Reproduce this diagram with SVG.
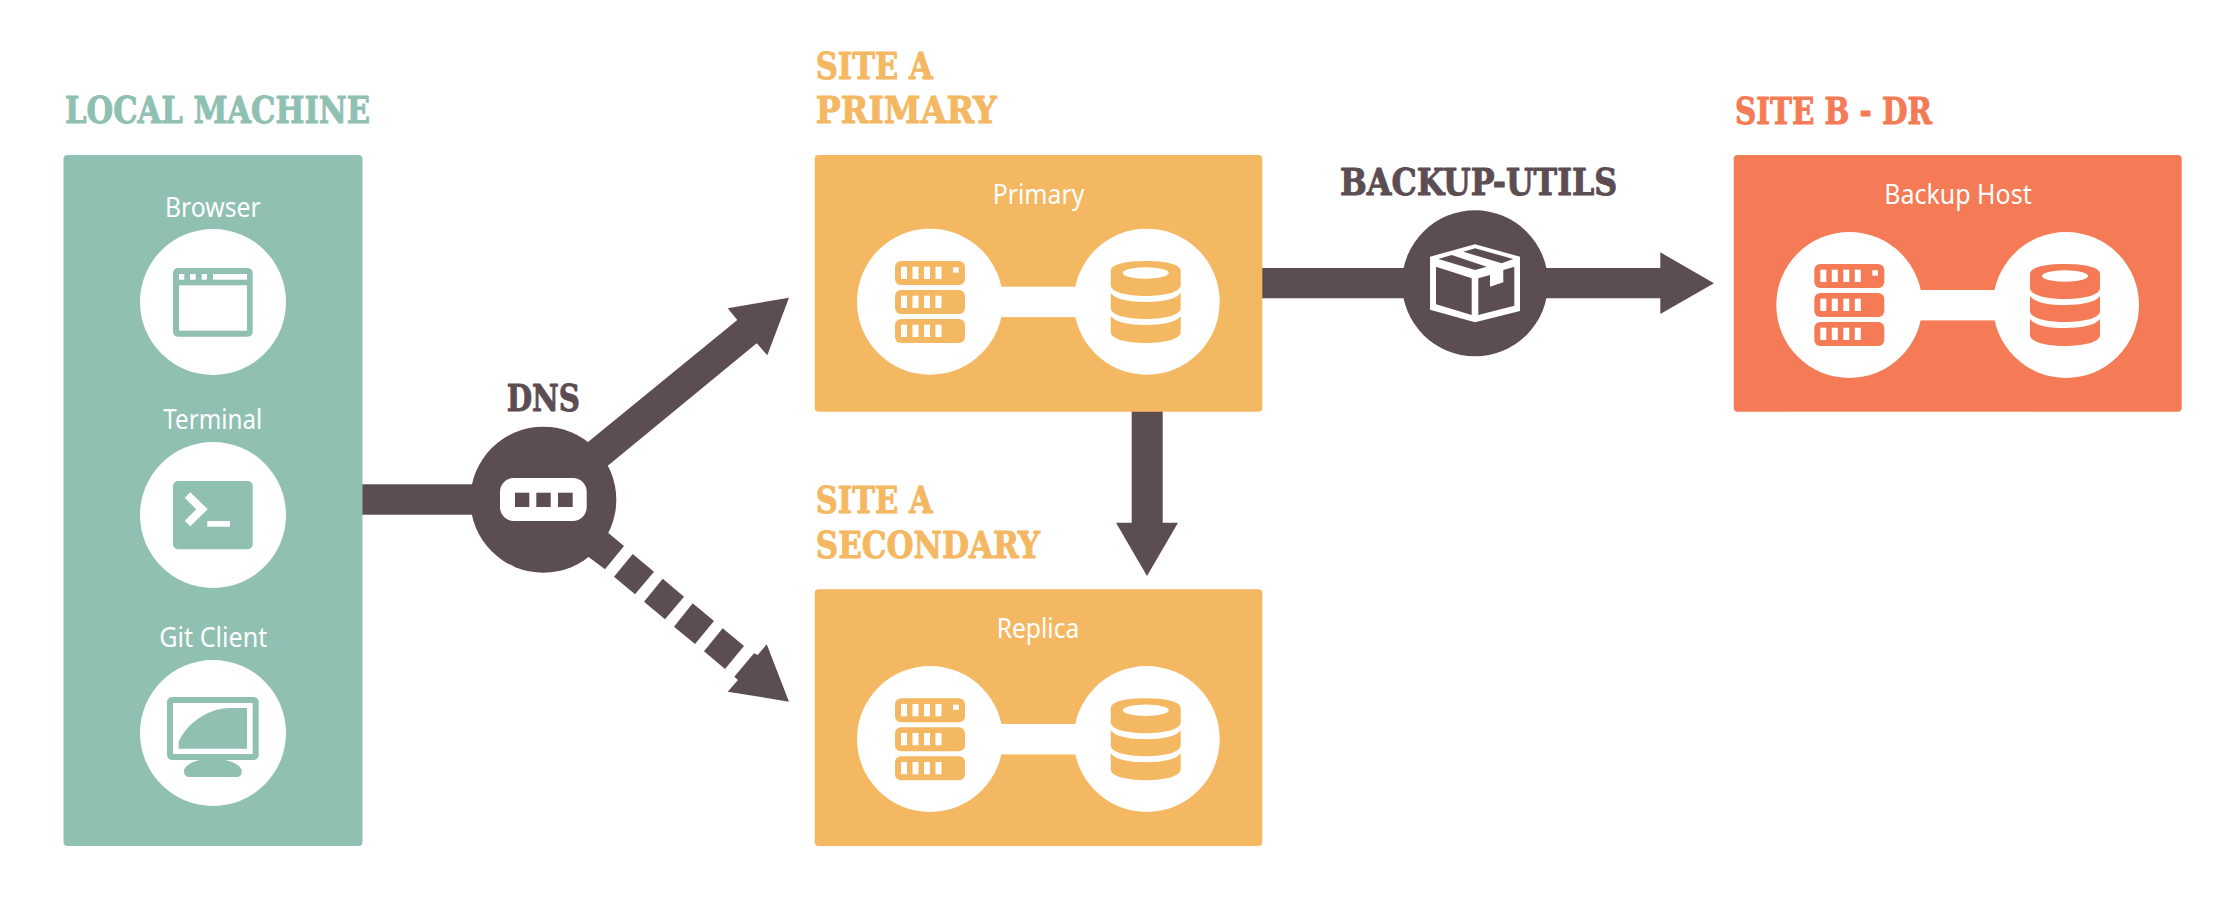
<svg xmlns="http://www.w3.org/2000/svg" width="2224" height="916" viewBox="0 0 2224 916">
<style>
.title{font-family:"DejaVu Serif Condensed","DejaVu Serif","Liberation Serif",serif;font-weight:700;font-stretch:condensed;font-size:37px;stroke-width:.9px;stroke-linejoin:round}
.label{font-family:"Noto Sans","Open Sans",sans-serif;font-size:27px;fill:#fff}
.teal{fill:#8FC0B2}.orange{fill:#F5B862}.coral{fill:#F47B55}.dark{fill:#5C4D52}.white{fill:#fff}
text.teal{stroke:#8FC0B2}text.orange{stroke:#F5B862}text.coral{stroke:#F47B55}text.dark{stroke:#5C4D52}
</style>
<defs>
<g id="server">
<rect y="0" width="70" height="24" rx="6"/><rect y="29" width="70" height="24" rx="6"/><rect y="58" width="70" height="24" rx="6"/>
<g class="white">
<rect x="6" y="5.7" width="6" height="12.3"/><rect x="17.5" y="5.7" width="6" height="12.3"/><rect x="29" y="5.7" width="6" height="12.3"/><rect x="40.5" y="5.7" width="6" height="12.3"/>
<rect x="58" y="6.3" width="5.7" height="5.4"/>
<rect x="6" y="34.7" width="6" height="12.3"/><rect x="17.5" y="34.7" width="6" height="12.3"/><rect x="29" y="34.7" width="6" height="12.3"/><rect x="40.5" y="34.7" width="6" height="12.3"/>
<rect x="6" y="63.7" width="6" height="12.3"/><rect x="17.5" y="63.7" width="6" height="12.3"/><rect x="29" y="63.7" width="6" height="12.3"/><rect x="40.5" y="63.7" width="6" height="12.3"/>
</g>
</g>
<g id="db">
<path d="M0 10C0 3 16 0 35 0S70 3 70 10V24C70 31 54 35 35 35S0 31 0 24Z"/>
<path d="M0 32C4 38 18 41 35 41S66 38 70 32V47C70 54 54 58 35 58S0 54 0 47Z"/>
<path d="M0 55C4 61 18 64 35 64S66 61 70 55V71C70 78 54 82 35 82S0 78 0 71Z"/>
<ellipse class="white" cx="35" cy="12" rx="23" ry="5.7"/>
</g>
<g id="pair" class="white">
<circle cx="73" cy="73" r="73"/><circle cx="289.7" cy="73" r="73"/><rect x="73" y="58" width="216" height="30.4"/>
</g>
</defs>

<g id="connectors" class="dark">
<rect x="362" y="484.3" width="120" height="30.4"/>
<polygon points="588.3,441.7 737.3,320 727.7,308.3 789,297.7 767.3,355.3 756.7,343.3 608.7,465 575,480"/>
<polygon points="575,525 588.3,556.7 605,569.3 624,546 608.7,533.3"/>
<polygon points="632.7,554 654,571.7 635,594.3 614,576.7"/>
<polygon points="662.7,578.7 684,596.7 665,619.3 644,601.7"/>
<polygon points="692.7,603.3 714,621 695,644 674,626.7"/>
<polygon points="722.7,628.3 744,646 725,669 704,651.3"/>
<polygon points="789,701.7 766.7,644.3 757.7,655 754,653.3 734.3,676.7 738,680 727.7,691.7"/>
<polygon points="1262,268 1660.3,268 1660.3,252.3 1714,283.3 1660.3,314 1660.3,298.3 1262,298.3"/>
<polygon points="1131.7,411 1162.7,411 1162.7,522.7 1178,522.7 1147,576 1116,522.7 1131.7,522.7"/>
</g>

<g id="local-machine">
<text class="title teal" x="65" y="123.3" textLength="305" lengthAdjust="spacingAndGlyphs">LOCAL MACHINE</text>
<rect class="teal" x="63.5" y="155" width="299" height="691" rx="4"/>
</g>

<g id="browser">
<text class="label" x="165" y="216.7" textLength="95.7" lengthAdjust="spacingAndGlyphs">Browser</text>
<circle class="white" cx="213" cy="302" r="73"/>
<rect class="teal" x="173" y="268" width="79.7" height="68.7" rx="5"/>
<g class="white">
<rect x="179" y="274" width="5.3" height="5.7"/><rect x="190" y="274" width="5.7" height="5.7"/><rect x="201.7" y="274" width="5.3" height="5.7"/><rect x="213" y="274" width="34" height="5.7"/>
<rect x="179" y="285.3" width="68" height="45.4"/>
</g>
</g>

<g id="terminal">
<text class="label" x="163.3" y="429" textLength="99" lengthAdjust="spacingAndGlyphs">Terminal</text>
<circle class="white" cx="213" cy="515" r="73"/>
<rect class="teal" x="173" y="481" width="79.7" height="68.3" rx="5"/>
<polyline points="187.5,495 202,509.3 187.5,523.5" fill="none" stroke="#fff" stroke-width="8"/>
<rect class="white" x="207.3" y="521" width="22.7" height="5.7"/>
</g>

<g id="git-client">
<text class="label" x="159.3" y="647" textLength="108" lengthAdjust="spacingAndGlyphs">Git Client</text>
<circle class="white" cx="213" cy="733" r="73"/>
<rect class="teal" x="167" y="697" width="91.7" height="63" rx="5"/>
<rect class="white" x="173" y="703" width="79.7" height="51"/>
<path class="teal" d="M178.7 748.7V741.7C186 724 208 708 230 708H247V748.7Z"/>
<path class="teal" d="M200 760C190 762 184 767 184 771C184 775 186 777 190 777H236C240 777 241.7 775 241.7 771C241.7 767 235 762 225 760Z"/>
</g>

<g id="dns">
<text class="title dark" x="506.7" y="410.7" textLength="73.3" lengthAdjust="spacingAndGlyphs">DNS</text>
<circle class="dark" cx="543.3" cy="499.7" r="73"/>
<rect class="white" x="500" y="478" width="86.7" height="43" rx="14"/>
<g class="dark">
<rect x="515" y="492.7" width="14.3" height="14.3"/><rect x="536.3" y="492.7" width="14.4" height="14.3"/><rect x="558" y="492.7" width="14.7" height="14.3"/>
</g>
</g>

<g id="site-a-primary">
<text class="title orange" x="815.7" y="79" textLength="117" lengthAdjust="spacingAndGlyphs">SITE A</text>
<text class="title orange" x="815.7" y="123.3" textLength="181" lengthAdjust="spacingAndGlyphs">PRIMARY</text>
<rect class="orange" x="814.7" y="155" width="447.6" height="256.7" rx="4"/>
<text class="label" x="992.7" y="204" textLength="91.6" lengthAdjust="spacingAndGlyphs">Primary</text>
<use href="#pair" x="857" y="228.7"/>
<use href="#server" x="895" y="261" class="orange"/>
<use href="#db" x="1110.7" y="261" class="orange"/>
</g>

<g id="site-a-secondary">
<text class="title orange" x="815.7" y="513.3" textLength="117" lengthAdjust="spacingAndGlyphs">SITE A</text>
<text class="title orange" x="815.7" y="558.3" textLength="224.3" lengthAdjust="spacingAndGlyphs">SECONDARY</text>
<rect class="orange" x="814.7" y="589.3" width="447.6" height="256.7" rx="4"/>
<text class="label" x="996.7" y="638.3" textLength="82.6" lengthAdjust="spacingAndGlyphs">Replica</text>
<use href="#pair" x="857" y="666"/>
<use href="#server" x="895" y="698.3" class="orange"/>
<use href="#db" x="1110.7" y="698.3" class="orange"/>
</g>

<g id="backup-utils">
<text class="title dark" x="1340" y="195" textLength="277.3" lengthAdjust="spacingAndGlyphs">BACKUP-UTILS</text>
<circle class="dark" cx="1475" cy="283.3" r="73"/>
<polygon class="white" points="1475,244.3 1520,256.7 1520,311 1475,322.3 1430,309.7 1430,256.7"/>
<g class="dark">
<polygon points="1436,266.7 1471.7,278.3 1471.7,315 1436,304.3"/>
<polygon points="1478.3,278.3 1490,275 1490,286.7 1503.3,282.3 1503.3,270 1514.3,266.7 1514.3,305.7 1478.3,315"/>
<polygon points="1438.3,259 1451.7,255 1486.7,266.7 1475,270"/>
<polygon points="1463.3,251.7 1475,248.3 1513.3,259 1501.7,263.3"/>
</g>
</g>

<g id="site-b-dr">
<text class="title coral" x="1735" y="124" textLength="197" lengthAdjust="spacingAndGlyphs">SITE B - DR</text>
<rect class="coral" x="1733.7" y="155" width="448" height="256.7" rx="4"/>
<text class="label" x="1884.3" y="204.3" textLength="147.4" lengthAdjust="spacingAndGlyphs">Backup Host</text>
<use href="#pair" x="1776.3" y="232"/>
<use href="#server" x="1814.3" y="264" class="coral"/>
<use href="#db" x="2030" y="264" class="coral"/>
</g>
</svg>
